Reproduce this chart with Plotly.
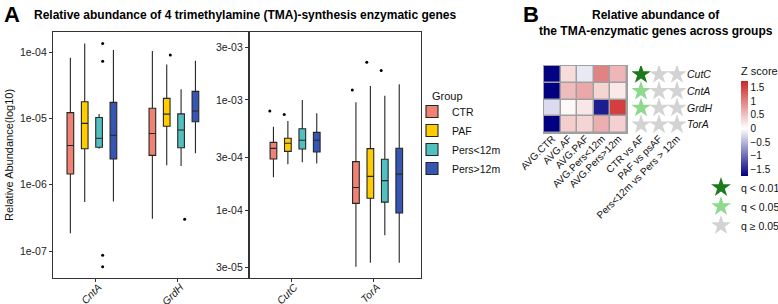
import plotly.graph_objects as go

# ---------------- DATA ----------------
groups = ["CTR", "PAF", "Pers<12m", "Pers>12m"]
group_colors = ["#F08274", "#FFCC00", "#52BFC1", "#3557B3"]

genes_left = ["CntA", "GrdH"]
genes_right = ["CutC", "TorA"]

# box statistics, rows = groups (CTR, PAF, Pers<12m, Pers>12m), cols = genes
left_lowerfence = [[1.85e-7, 3.07e-7], [5.5e-7, 1.96e-6], [3.47e-6, 1.91e-6], [5.6e-7, 2.97e-6]]
left_q1 = [[1.45e-6, 2.77e-6], [3.48e-6, 7.6e-6], [3.66e-6, 3.6e-6], [2.44e-6, 8.9e-6]]
left_median = [[3.9e-6, 5.9e-6], [8.4e-6, 1.16e-5], [5.0e-6, 6.67e-6], [5.55e-6, 1.29e-5]]
left_q3 = [[1.22e-5, 1.42e-5], [1.78e-5, 2.0e-5], [1.03e-5, 1.17e-5], [1.74e-5, 2.55e-5]]
left_upperfence = [[8.2e-5, 1.04e-4], [1.35e-4, 6.5e-5], [1.16e-5, 2.74e-5], [1.07e-4, 7.4e-5]]

right_lowerfence = [[1.98e-4, 3.05e-5], [2.6e-4, 3.32e-5], [2.71e-4, 5.9e-5], [2.65e-4, 3.32e-5]]
right_q1 = [[2.91e-4, 1.15e-4], [3.41e-4, 1.28e-4], [3.59e-4, 1.18e-4], [3.37e-4, 9.4e-5]]
right_median = [[3.63e-4, 1.6e-4], [4.04e-4, 2.02e-4], [4.3e-4, 1.85e-4], [4.3e-4, 2.12e-4]]
right_q3 = [[4.12e-4, 2.75e-4], [4.49e-4, 3.61e-4], [5.48e-4, 2.89e-4], [5.08e-4, 3.64e-4]]
right_upperfence = [[5.7e-4, 9.53e-4], [6.45e-4, 1.34e-3], [1.0e-3, 1.09e-3], [7.57e-4, 1.39e-3]]

# outliers
outlier_gene = ["CntA", "CntA", "CntA", "CntA", "GrdH", "GrdH",
                "CutC", "CutC", "TorA", "TorA", "TorA"]
outlier_group = ["Pers<12m", "Pers<12m", "Pers<12m", "Pers<12m", "PAF", "Pers<12m",
                 "CTR", "PAF", "CTR", "PAF", "Pers<12m"]
outlier_value = [1.35e-4, 7.24e-5, 8.6e-8, 5.8e-8, 9.0e-5, 3.0e-7,
                 7.94e-4, 7.4e-4, 1.23e-3, 2.2e-3, 1.85e-3]

left_ticks = [1e-7, 1e-6, 1e-5, 1e-4]
left_ticktext = ["1e-07", "1e-06", "1e-05", "1e-04"]
right_ticks = [3e-5, 1e-4, 3e-4, 1e-3, 3e-3]
right_ticktext = ["3e-05", "1e-04", "3e-04", "1e-03", "3e-03"]

# panel B
heat_genes = ["CutC", "CntA", "GrdH", "TorA"]
heat_cols = ["AVG.CTR", "AVG.AF", "AVG.PAF", "AVG.Pers<12m", "AVG.Pers>12m"]
heat_z = [
    [-1.72, 0.28, -0.15, 1.00, 0.59],
    [-1.78, 0.55, 0.70, 0.35, 0.18],
    [-0.25, 0.05, 0.20, -1.55, 1.55],
    [-1.78, 0.40, 0.35, 0.65, 0.38],
]
comparisons = ["CTR vs AF", "PAF vs psAF", "Pers<12m vs Pers > 12m"]
q_levels = [
    ["q < 0.01", "q ≥ 0.05", "q ≥ 0.05"],
    ["q < 0.05", "q ≥ 0.05", "q ≥ 0.05"],
    ["q < 0.05", "q ≥ 0.05", "q ≥ 0.05"],
    ["q ≥ 0.05", "q ≥ 0.05", "q ≥ 0.05"],
]
q_names = ["q < 0.01", "q < 0.05", "q ≥ 0.05"]
q_colors = ["#1B7A1B", "#8FD98F", "#D3D3D3"]
colorbar_ticks = [1.5, 1, 0.5, 0, -0.5, -1, -1.5]

# ---------------- LAYOUT HELPERS ----------------
W, H = 778, 304
FONT = "Liberation Sans, Arial, sans-serif"
BOXGAP, BOXGROUPGAP = 0.30, 0.07


def px(x):
    return x / W


def py(y):
    return 1 - y / H


def esc(s):
    return s.replace("<", "&lt;").replace(">", "&gt;")


fig = go.Figure()

# ---------------- PANEL A: boxes ----------------
for gi, g in enumerate(groups):
    common = dict(name=esc(g), fillcolor=group_colors[gi], whiskerwidth=0,
                  line=dict(color="#262626", width=1.1), boxpoints=False,
                  hoverinfo="skip", legend="legend")
    fig.add_trace(go.Box(x=list(range(len(genes_left))),
                         lowerfence=left_lowerfence[gi], q1=left_q1[gi], median=left_median[gi],
                         q3=left_q3[gi], upperfence=left_upperfence[gi],
                         xaxis="x", yaxis="y", showlegend=True, **common))
    fig.add_trace(go.Box(x=list(range(len(genes_right))),
                         lowerfence=right_lowerfence[gi], q1=right_q1[gi], median=right_median[gi],
                         q3=right_q3[gi], upperfence=right_upperfence[gi],
                         xaxis="x2", yaxis="y2", showlegend=False, **common))

# outliers, dodged like the grouped boxes
slot = (1 - BOXGAP) / len(groups)
for genes, xa, ya in [(genes_left, "x", "y"), (genes_right, "x2", "y2")]:
    xs, ys = [], []
    for gene, grp, val in zip(outlier_gene, outlier_group, outlier_value):
        if gene in genes:
            gi = groups.index(grp)
            xs.append(genes.index(gene) + (gi - (len(groups) - 1) / 2) * slot)
            ys.append(val)
    fig.add_trace(go.Scatter(x=xs, y=ys, mode="markers", xaxis=xa, yaxis=ya,
                             marker=dict(size=3, color="black"), showlegend=False,
                             hoverinfo="skip"))

# ---------------- PANEL B: heatmap ----------------
fig.add_trace(go.Heatmap(
    z=heat_z, x=[esc(c) for c in heat_cols], y=heat_genes, xaxis="x3", yaxis="y3",
    colorscale=[[0, "#000080"], [0.5, "#FFFFFF"], [1, "#CD2626"]],
    zmin=-1.75, zmax=1.75, xgap=1.5, ygap=1.5, hoverinfo="skip",
    colorbar=dict(x=px(741), xanchor="left", xpad=0, ypad=0, thickness=7,
                  lenmode="pixels", len=112, y=py(64), yanchor="top",
                  outlinewidth=0, ticks="", tickvals=colorbar_ticks,
                  tickfont=dict(size=10, family=FONT, color="#111"),
                  title=dict(text="Z score", side="top", font=dict(size=11, family=FONT, color="#111"))),
))

# stars, one trace per q-level
for qn, qc in zip(q_names, q_colors):
    xs, ys = [], []
    for ri, gene in enumerate(heat_genes):
        for ci, comp in enumerate(comparisons):
            if q_levels[ri][ci] == qn:
                xs.append(esc(comp))
                ys.append(gene)
    fig.add_trace(go.Scatter(x=xs, y=ys, mode="markers", xaxis="x4", yaxis="y4",
                             name=esc(qn), legend="legend2", hoverinfo="skip",
                             marker=dict(symbol="star", size=15, color=qc, line=dict(width=0))))

# gray cell borders behind heatmap
fig.add_shape(type="rect", xref="x3 domain", yref="y3 domain", x0=0, x1=1, y0=0, y1=1,
              fillcolor="#A0A0A0", line=dict(color="#A0A0A0", width=2), layer="below")

axis_common = dict(showgrid=False, zeroline=False, automargin=False)
frame = dict(showline=True, linecolor="#333333", linewidth=1.2, mirror=True,
             ticks="outside", ticklen=3, tickcolor="#333333", tickwidth=1)
tickf = dict(size=10.5, family=FONT, color="#222")
xlab = dict(tickangle=-45, ticklabelstandoff=-5, ticklabelshift=3)

fig.update_layout(
    width=W, height=H, autosize=False,
    margin=dict(l=0, r=0, t=0, b=0, autoexpand=False),
    paper_bgcolor="white", plot_bgcolor="white",
    font=dict(family=FONT, color="#111"),
    boxmode="group", boxgap=BOXGAP, boxgroupgap=BOXGROUPGAP,
    xaxis=dict(domain=[px(53), px(249)], range=[-0.518, 1.872], anchor="y",
               tickvals=list(range(len(genes_left))),
               ticktext=["<i>%s</i>" % g for g in genes_left],
               tickfont=tickf, **xlab, **frame, **axis_common),
    yaxis=dict(domain=[py(278), py(32)], type="log", range=[-7.407, -3.698], anchor="x",
               tickvals=left_ticks, ticktext=left_ticktext, tickfont=tickf,
               title=dict(text="Relative Abundance(log10)", font=dict(size=11, family=FONT, color="#111"),
                          standoff=4),
               **frame, **axis_common),
    xaxis2=dict(domain=[px(249), px(421)], range=[-0.515, 1.570], anchor="y2",
                tickvals=list(range(len(genes_right))),
                ticktext=["<i>%s</i>" % g for g in genes_right],
                tickfont=tickf, **xlab, **frame, **axis_common),
    yaxis2=dict(domain=[py(278), py(32)], type="log", range=[-4.618, -2.382], anchor="x2",
                tickvals=right_ticks, ticktext=right_ticktext, tickfont=tickf,
                **frame, **axis_common),
    xaxis3=dict(domain=[px(544), px(627)], anchor="y3", type="category", tickangle=-45,
                ticklabelstandoff=-3,
                ticks="", showline=False, tickfont=dict(size=10, family=FONT, color="#111"),
                **axis_common),
    yaxis3=dict(domain=[py(133), py(66)], anchor="x3", type="category",
                categoryorder="array", categoryarray=heat_genes, range=[3.5, -0.5],
                showticklabels=False, ticks="", showline=False, **axis_common),
    xaxis4=dict(domain=[px(632), px(686)], anchor="y4", type="category",
                categoryorder="array", categoryarray=[esc(c) for c in comparisons],
                range=[-0.5, 2.5], tickangle=-45, ticklabelstandoff=-3, ticks="", showline=False,
                tickfont=dict(size=10, family=FONT, color="#111"), **axis_common),
    yaxis4=dict(domain=[py(133), py(66)], anchor="x4", side="right", type="category",
                categoryorder="array", categoryarray=heat_genes, range=[3.5, -0.5],
                tickvals=heat_genes, ticktext=["<i>%s</i>" % g for g in heat_genes],
                ticks="", showline=False, tickfont=dict(size=10.5, family=FONT, color="#111"),
                **axis_common),
    legend=dict(x=px(412), y=py(97), xanchor="left", yanchor="top",
                font=dict(size=10.5, family=FONT, color="#111"), bgcolor="rgba(0,0,0,0)",
                itemwidth=30, tracegroupgap=0),
    legend2=dict(x=px(701), y=py(173), xanchor="left", yanchor="top",
                 font=dict(size=10.5, family=FONT, color="#111"), bgcolor="rgba(0,0,0,0)",
                 itemwidth=30),
    annotations=[
        dict(text="<b>A</b>", x=px(2), y=py(15), xref="paper", yref="paper",
             xanchor="left", yanchor="middle", showarrow=False,
             font=dict(size=22, family=FONT, color="black")),
        dict(text="<b>Relative abundance of 4 trimethylamine (TMA)-synthesis enzymatic genes</b>",
             x=px(32), y=py(15), xref="paper", yref="paper", xanchor="left", yanchor="middle",
             showarrow=False, font=dict(size=12, family=FONT, color="black")),
        dict(text="Group", x=px(430), y=py(96), xref="paper", yref="paper",
             xanchor="left", yanchor="middle", showarrow=False,
             font=dict(size=11, family=FONT, color="#111")),
        dict(text="<b>B</b>", x=px(521), y=py(15), xref="paper", yref="paper",
             xanchor="left", yanchor="middle", showarrow=False,
             font=dict(size=22, family=FONT, color="black")),
        dict(text="<b>Relative abundance of<br>the TMA-enzymatic genes across groups</b>",
             x=px(656), y=py(23), xref="paper", yref="paper", xanchor="center", yanchor="middle",
             showarrow=False, font=dict(size=12, family=FONT, color="black")),
    ],
)

fig.write_html("out.html", config={"displayModeBar": False},
               post_script="document.body.style.margin='0px';document.body.style.padding='0px';"
                           "document.body.style.overflow='hidden';")
